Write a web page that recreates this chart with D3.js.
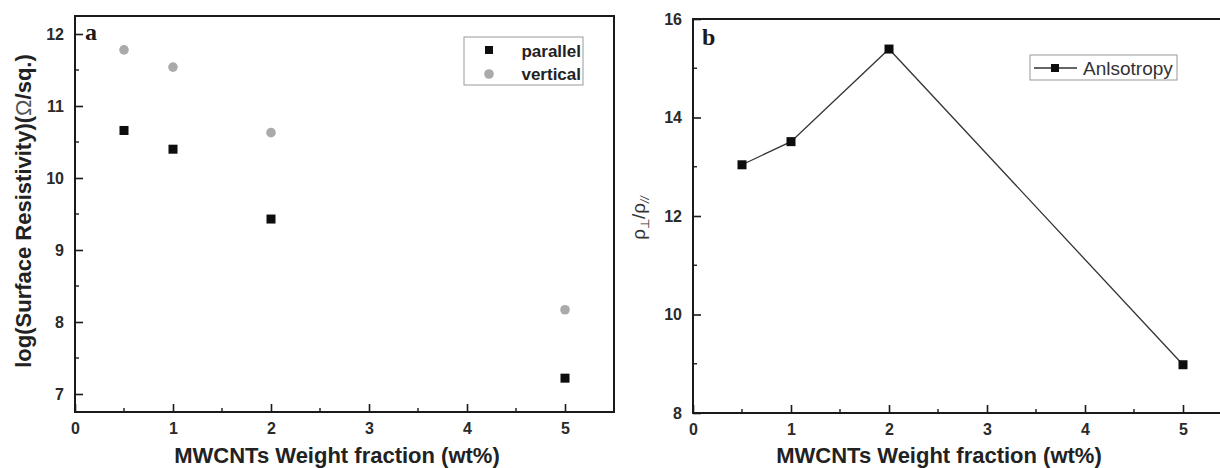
<!DOCTYPE html>
<html>
<head>
<meta charset="utf-8">
<script src="https://cdn.jsdelivr.net/npm/d3@7"></script>
<style>
  body { margin: 0; background: #fff; }
  svg { display: block; }
</style>
</head>
<body>
<svg id="chart" width="1220" height="468"></svg>
<script>
// weight fractions (wt%)
var fractions = [0.5, 1, 2, 5];
// panel a: log surface resistivity
var parallelVals = [10.66, 10.40, 9.43, 7.22];
var verticalVals = [11.78, 11.54, 10.63, 8.17];
// panel b: anisotropy ratio
var anisotropyVals = [13.04, 13.51, 15.39, 8.98];

var xTicks = [0, 1, 2, 3, 4, 5];
var yTicksA = [7, 8, 9, 10, 11, 12];
var yTicksB = [8, 10, 12, 14, 16];

var svg = d3.select("#chart");
var ink = "#1a1a1a";
var sans = "Liberation Sans, Arial, sans-serif";

function drawFrame(g, x, y, xMinor, yMinor, yMajor) {
  var x0 = x.range()[0], x1 = x.range()[1];
  var y0 = y.range()[0], y1 = y.range()[1];

  g.append("rect")
    .attr("x", x0).attr("y", y1)
    .attr("width", x1 - x0).attr("height", y0 - y1)
    .attr("fill", "none").attr("stroke", ink).attr("stroke-width", 2);

  // ticks point inward
  var xAxis = d3.axisBottom(x).tickValues(xTicks).tickSize(-8).tickPadding(11).tickFormat(d3.format("d"));
  var gx = g.append("g").attr("transform", "translate(0," + y0 + ")").call(xAxis);
  var yAxis = d3.axisLeft(y).tickValues(yMajor).tickSize(-8).tickPadding(11).tickFormat(d3.format("d"));
  var gy = g.append("g").attr("transform", "translate(" + x0 + ",0)").call(yAxis);
  [gx, gy].forEach(function(a) {
    a.select(".domain").remove();
    a.selectAll(".tick line").attr("stroke", ink).attr("stroke-width", 1.6);
    a.selectAll(".tick text").attr("font-family", sans).attr("font-size", 16)
      .attr("font-weight", "bold").attr("fill", "#2a2a2a");
  });

  g.selectAll(".xminor").data(xMinor).enter().append("line")
    .attr("x1", function(d) { return x(d); }).attr("x2", function(d) { return x(d); })
    .attr("y1", y0).attr("y2", y0 - 4)
    .attr("stroke", ink).attr("stroke-width", 1.4);
  g.selectAll(".yminor").data(yMinor).enter().append("line")
    .attr("x1", x0).attr("x2", x0 + 4)
    .attr("y1", function(d) { return y(d); }).attr("y2", function(d) { return y(d); })
    .attr("stroke", ink).attr("stroke-width", 1.4);
}

var xMinor = [0.5, 1.5, 2.5, 3.5, 4.5];

// ---------- panel a ----------
var xa = d3.scaleLinear().domain([0, 5.5]).range([75, 614]);
var ya = d3.scaleLinear().domain([6.75, 12.25]).range([412, 16]);
var ga = svg.append("g");
drawFrame(ga, xa, ya, xMinor, [7.5, 8.5, 9.5, 10.5, 11.5], yTicksA);

ga.selectAll(".vert").data(fractions).enter().append("circle")
  .attr("cx", function(d) { return xa(d); })
  .attr("cy", function(d, i) { return ya(verticalVals[i]); })
  .attr("r", 4.8).attr("fill", "#aaaaaa");
ga.selectAll(".par").data(fractions).enter().append("rect")
  .attr("x", function(d) { return xa(d) - 4.5; })
  .attr("y", function(d, i) { return ya(parallelVals[i]) - 4.5; })
  .attr("width", 9).attr("height", 9).attr("fill", "#0d0d0d");

ga.append("text").attr("x", 85).attr("y", 40)
  .attr("font-family", "Liberation Serif, serif").attr("font-weight", "bold")
  .attr("font-size", 24).attr("fill", ink).text("a");

// legend a
var la = ga.append("g");
la.append("rect").attr("x", 464).attr("y", 37).attr("width", 119).attr("height", 48)
  .attr("fill", "none").attr("stroke", "#999").attr("stroke-width", 1);
la.append("rect").attr("x", 485).attr("y", 46).attr("width", 8).attr("height", 8).attr("fill", "#0d0d0d");
la.append("circle").attr("cx", 489).attr("cy", 74).attr("r", 4.8).attr("fill", "#aaaaaa");
la.selectAll("text").data(["parallel", "vertical"]).enter().append("text")
  .attr("x", 581).attr("y", function(d, i) { return 57 + i * 23; })
  .attr("text-anchor", "end")
  .attr("font-family", sans).attr("font-weight", "bold")
  .attr("font-size", 17).attr("fill", "#222").text(function(d) { return d; });

var ylA = ga.append("text")
  .attr("transform", "translate(31,211) rotate(-90)")
  .attr("text-anchor", "middle")
  .attr("font-family", sans).attr("font-weight", "bold")
  .attr("font-size", 22).attr("fill", "#222");
ylA.append("tspan").text("log(Surface Resistivity)(");
ylA.append("tspan").attr("font-weight", "normal").attr("fill", "#555").text("Ω");
ylA.append("tspan").text("/sq.)");

ga.append("text").attr("x", 337).attr("y", 463)
  .attr("text-anchor", "middle")
  .attr("font-family", sans).attr("font-weight", "bold")
  .attr("font-size", 22).attr("fill", "#222")
  .text("MWCNTs Weight fraction (wt%)");

// ---------- panel b ----------
var xb = d3.scaleLinear().domain([0, 5.5]).range([693, 1232]);
var yb = d3.scaleLinear().domain([8, 16]).range([413, 19]);
var gb = svg.append("g");
drawFrame(gb, xb, yb, xMinor, [9, 11, 13, 15], yTicksB);

var line = d3.line()
  .x(function(d) { return xb(d); })
  .y(function(d, i) { return yb(anisotropyVals[i]); });
gb.append("path").datum(fractions).attr("d", line)
  .attr("fill", "none").attr("stroke", "#333").attr("stroke-width", 1.3);
gb.selectAll(".ani").data(fractions).enter().append("rect")
  .attr("x", function(d) { return xb(d) - 4.5; })
  .attr("y", function(d, i) { return yb(anisotropyVals[i]) - 4.5; })
  .attr("width", 9).attr("height", 9).attr("fill", "#0d0d0d");

gb.append("text").attr("x", 702).attr("y", 45)
  .attr("font-family", "Liberation Serif, serif").attr("font-weight", "bold")
  .attr("font-size", 24).attr("fill", ink).text("b");

// legend b
var lb = gb.append("g");
lb.append("rect").attr("x", 1030).attr("y", 55).attr("width", 147).attr("height", 25)
  .attr("fill", "none").attr("stroke", "#999").attr("stroke-width", 1);
lb.append("line").attr("x1", 1034).attr("x2", 1077).attr("y1", 68).attr("y2", 68)
  .attr("stroke", "#333").attr("stroke-width", 1.3);
lb.append("rect").attr("x", 1051).attr("y", 64).attr("width", 8).attr("height", 8).attr("fill", "#0d0d0d");
lb.append("text").attr("x", 1083).attr("y", 75)
  .attr("font-family", sans)
  .attr("font-size", 19).attr("fill", "#333").text("Anlsotropy");

var yl = gb.append("text")
  .attr("transform", "translate(645,218) rotate(-90)")
  .attr("text-anchor", "middle")
  .attr("font-family", sans)
  .attr("font-size", 19).attr("fill", "#333");
yl.append("tspan").text("ρ");
yl.append("tspan").attr("dy", 4).attr("font-size", 12).text("⊥");
yl.append("tspan").attr("dy", -4).text("/ρ");
yl.append("tspan").attr("dy", 4).attr("font-size", 12).attr("font-style", "italic").text("//");

gb.append("text").attr("x", 939).attr("y", 463)
  .attr("text-anchor", "middle")
  .attr("font-family", sans).attr("font-weight", "bold")
  .attr("font-size", 22).attr("fill", "#222")
  .text("MWCNTs Weight fraction (wt%)");
</script>
</body>
</html>
